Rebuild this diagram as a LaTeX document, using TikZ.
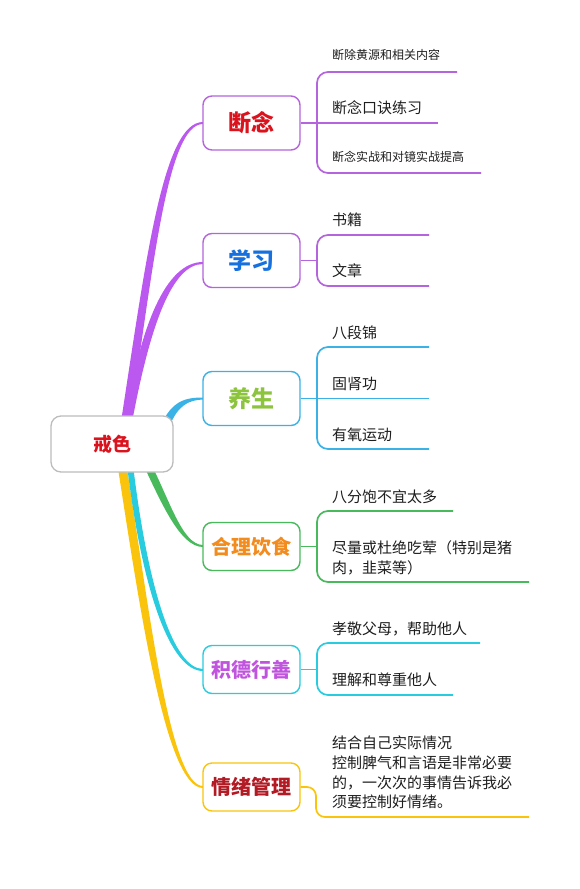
\documentclass[tikz,border=0pt]{standalone}
\usepackage{fontspec}
\setmainfont{Noto Sans CJK SC}
\definecolor{cPur}{RGB}{186,88,240}
\definecolor{cPurB}{RGB}{180,100,220}
\definecolor{cBlue}{RGB}{58,178,230}
\definecolor{cGreen}{RGB}{72,186,92}
\definecolor{cCyan}{RGB}{40,204,222}
\definecolor{cYel}{RGB}{250,196,12}
\definecolor{cGray}{RGB}{188,188,188}
\definecolor{tRed}{RGB}{218,20,30}
\definecolor{tBlue}{RGB}{22,112,222}
\definecolor{tLime}{RGB}{140,196,62}
\definecolor{tOrange}{RGB}{242,140,30}
\definecolor{tPurple}{RGB}{192,84,222}
\definecolor{tDark}{RGB}{178,26,36}
\definecolor{tLeaf}{RGB}{30,30,30}
\begin{document}
\begin{tikzpicture}[x=1pt,y=-1pt,
  box/.style={draw, line width=1.4pt, rounded corners=9pt, fill=white, minimum width=97pt, inner sep=0pt},
  bigtxt/.style={font=\fontsize{23}{23}\selectfont\bfseries, minimum height=54pt},
  midtxt/.style={font=\fontsize{20}{20}\selectfont\bfseries, minimum height=48pt},
  leaf/.style={anchor=base west, inner sep=0pt, font=\fontsize{15}{20}\selectfont, text=tLeaf},
  smallleaf/.style={leaf, font=\fontsize{12}{14}\selectfont},
  sub/.style={line width=1.7pt, rounded corners=11pt}]
\useasboundingbox (0,0) rectangle (580,889);
\fill[white] (0,0) rectangle (580,889);

% main tapered branches
\fill[cYel] (117.5,465) .. controls (140,610) and (166,788) .. (203,788) -- (203,786) .. controls (170,786) and (149,610) .. (126.5,465) -- cycle;
\fill[cCyan] (127,465) .. controls (142,590) and (170,671) .. (203,671) -- (203,669) .. controls (174,669) and (148,590) .. (133,465) -- cycle;
\fill[cGreen] (142,462) .. controls (161,502) and (180,547) .. (203,547) -- (203,545) .. controls (182,545) and (169,498) .. (150,462) -- cycle;
\fill[cBlue] (161,425) .. controls (172,401) and (185,397.5) .. (203,397.5) -- (203,399.5) .. controls (188,400) and (178,406) .. (170,425) -- cycle;
\fill[cPur] (124.5,425) .. controls (140,325) and (166,262) .. (203,262) -- (203,264) .. controls (172,264) and (150,325) .. (131.5,425) -- cycle;
\fill[cPur] (120.5,425) .. controls (146,260) and (163,122) .. (203,122) -- (203,124) .. controls (168,124) and (154,260) .. (129.5,425) -- cycle;

% root
\node[draw=cGray, line width=1.3pt, rounded corners=10pt, fill=white, minimum width=122pt, minimum height=56pt, inner sep=0pt, text=tRed, font=\fontsize{19}{19}\selectfont\bfseries] (root) at (112,444) {戒色};

% branch boxes
\node[box, bigtxt, draw=cPurB, text=tRed] (dn) at (251.5,123) {断念};
\node[box, bigtxt, draw=cPurB, text=tBlue] (xx) at (251.5,260.5) {学习};
\node[box, bigtxt, draw=cBlue, text=tLime] (ys) at (251.5,398.5) {养生};
\node[box, midtxt, draw=cGreen, text=tOrange] (hl) at (251.5,546.5) {合理饮食};
\node[box, midtxt, draw=cCyan, text=tPurple] (jd) at (251.5,669.5) {积德行善};
\node[box, midtxt, draw=cYel, text=tDark] (qx) at (251.5,787) {情绪管理};

% ---- 断念
\coordinate (dn1) at (457,72);
\coordinate (dn2) at (438,123);
\coordinate (dn3) at (481,173);
\draw[sub, cPurB] (dn1) -- (317,72) -- (317,173) -- (dn3);
\draw[line width=1.7pt, cPurB] (dn.east) -- (dn2);
\node[smallleaf] (dnt1) at (332,59.5) {断除黄源和相关内容};
\node[leaf] (dnt2) at (332,113.5) {断念口诀练习};
\node[smallleaf] (dnt3) at (332,161.5) {断念实战和对镜实战提高};

% ---- 学习
\coordinate (xx1) at (429,235);
\coordinate (xx2) at (429,286);
\coordinate (xxj) at (317,260.5);
\draw[line width=1.7pt, cPurB] (xx.east) -- (xxj);
\draw[sub, cPurB] (xx1) -- (317,235) -- (317,286) -- (xx2);
\node[leaf] (xxt1) at (332,225.5) {书籍};
\node[leaf] (xxt2) at (332,276.5) {文章};

% ---- 养生
\coordinate (ys1) at (429,347);
\coordinate (ys2) at (429,398.5);
\coordinate (ys3) at (429,449);
\draw[sub, cBlue] (ys1) -- (317,347) -- (317,449) -- (ys3);
\draw[line width=1.7pt, cBlue] (ys.east) -- (ys2);
\node[leaf] (yst1) at (332,338.5) {八段锦};
\node[leaf] (yst2) at (332,389.5) {固肾功};
\node[leaf] (yst3) at (332,440.5) {有氧运动};

% ---- 合理饮食
\coordinate (hl1) at (453,511);
\coordinate (hl2) at (529,582);
\coordinate (hlj) at (317,546.5);
\draw[line width=1.7pt, cGreen] (hl.east) -- (hlj);
\draw[sub, cGreen] (hl1) -- (317,511) -- (317,582) -- (hl2);
\node[leaf] (hlt1) at (332,502.5) {八分饱不宜太多};
\node[leaf] (hlt2) at (332,553.5) {尽量或杜绝吃荤（特别是猪};
\node[leaf] (hlt3) at (332,573.5) {肉，韭菜等）};

% ---- 积德行善
\coordinate (jd1) at (480,643);
\coordinate (jd2) at (453,695);
\coordinate (jdj) at (317,669.5);
\draw[line width=1.7pt, cCyan] (jd.east) -- (jdj);
\draw[sub, cCyan] (jd1) -- (317,643) -- (317,695) -- (jd2);
\node[leaf] (jdt1) at (332,634.5) {孝敬父母，帮助他人};
\node[leaf] (jdt2) at (332,685.5) {理解和尊重他人};

% ---- 情绪管理
\coordinate (qx1) at (529,817);
\draw[sub, cYel, rounded corners=9pt] (qx.east) -- (316,787) -- (316,817) -- (qx1);
\node[leaf] (qxt1) at (332,748.5) {结合自己实际情况};
\node[leaf] (qxt2) at (332,768.5) {控制脾气和言语是非常必要};
\node[leaf] (qxt3) at (332,788.5) {的，一次次的事情告诉我必};
\node[leaf] (qxt4) at (332,807.5) {须要控制好情绪。};
\end{tikzpicture}
\end{document}
